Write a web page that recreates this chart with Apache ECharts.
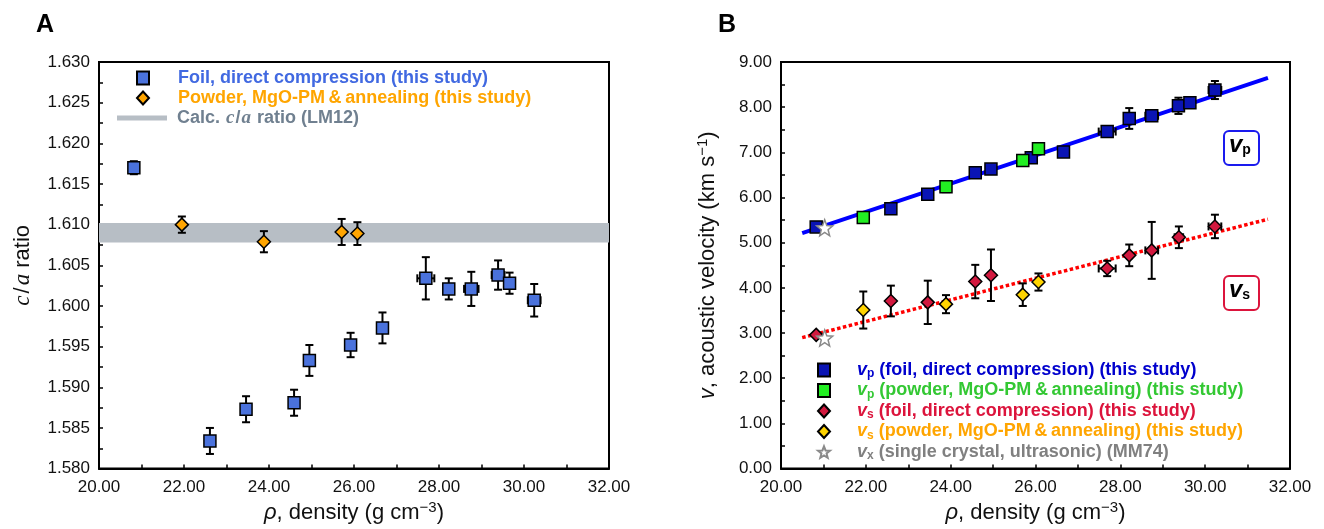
<!DOCTYPE html>
<html>
<head>
<meta charset="utf-8">
<script src="https://cdn.jsdelivr.net/npm/echarts@6/dist/echarts.min.js"></script>
<style>
html,body{margin:0;padding:0;background:#fff;}
#c{width:1324px;height:529px;}
</style>
</head>
<body>
<div id="c"></div>
<script>
// ---------- DATA ----------
// Panel A: c/a ratio
const rhoFoilA = [20.82, 22.61, 23.46, 24.59, 24.95, 25.92, 26.67, 27.69, 28.23, 28.76, 29.39, 29.66, 30.24];
const rhoFoilAErr = [0.05, 0.05, 0.05, 0.05, 0.05, 0.05, 0.10, 0.20, 0.08, 0.17, 0.15, 0.08, 0.15];
const caFoil = [1.6170, 1.5834, 1.5873, 1.5881, 1.5933, 1.5952, 1.5973, 1.6034, 1.6021, 1.6021, 1.6038, 1.6028, 1.6007];
const caFoilErr = [0.0008, 0.0016, 0.0016, 0.0016, 0.0019, 0.0015, 0.0019, 0.0026, 0.0013, 0.0021, 0.0018, 0.0013, 0.0020];
const rhoPowderA = [21.95, 23.88, 25.71, 26.08];
const caPowder = [1.6100, 1.6079, 1.6091, 1.6089];
const caPowderErr = [0.0010, 0.0013, 0.0016, 0.0014];
const caCalcBand = [1.6078, 1.6102];

// Panel B: velocities
const rhoVpFoil = [20.83, 22.59, 23.46, 24.58, 24.95, 25.90, 26.66, 27.69, 28.21, 28.74, 29.37, 29.64, 30.23];
const rhoVpFoilErr = [0.03, 0.03, 0.03, 0.05, 0.05, 0.05, 0.10, 0.20, 0.05, 0.15, 0.12, 0.10, 0.15];
const vpFoil = [5.35, 5.75, 6.07, 6.55, 6.63, 6.88, 7.01, 7.46, 7.75, 7.81, 8.03, 8.10, 8.38];
const vpFoilErr = [0.04, 0.05, 0.08, 0.08, 0.05, 0.05, 0.05, 0.10, 0.23, 0.05, 0.18, 0.08, 0.20];
const rhoPowderB = [21.94, 23.89, 25.70, 26.07];
const vpPowder = [5.56, 6.24, 6.82, 7.08];
const vpPowderErr = [0.04, 0.12, 0.12, 0.10];
const rhoVsFoil = [20.83, 22.59, 23.46, 24.58, 24.95, 27.69, 28.21, 28.74, 29.38, 30.23];
const rhoVsFoilErr = [0.03, 0.03, 0.03, 0.05, 0.05, 0.20, 0.05, 0.15, 0.10, 0.15];
const vsFoil = [2.96, 3.71, 3.68, 4.14, 4.28, 4.43, 4.72, 4.83, 5.12, 5.36];
const vsFoilErr = [0.04, 0.34, 0.48, 0.37, 0.57, 0.17, 0.24, 0.63, 0.24, 0.26];
const vsPowder = [3.51, 3.64, 3.85, 4.13];
const vsPowderErr = [0.41, 0.20, 0.25, 0.19];
const rhoMM74 = [21.03, 21.03];
const vMM74 = [5.33, 2.89];
const vpFitRho = [20.5, 31.48];
const vpFitV = [5.21, 8.65];
const vsFitRho = [20.5, 31.48];
const vsFitV = [2.90, 5.52];

// Tick settings
const xTicks = {min: 20, max: 32, interval: 2};
const caTicks = {min: 1.58, max: 1.63, interval: 0.005};
const vTicks = {min: 0, max: 9, interval: 1};

// ---------- HELPERS ----------
const FONT = 'Liberation Sans, Arial, sans-serif';
const zip = (xs, ys) => xs.map((x, i) => [x, ys[i]]);
const zipErr = (xs, ys, ye, xe) => xs.map((x, i) => [x, ys[i], ye[i], xe ? xe[i] : 0]);

function errRender(params, api) {
  const x = api.value(0), y = api.value(1), ye = api.value(2), xe = api.value(3);
  const top = api.coord([x, y + ye]);
  const bot = api.coord([x, y - ye]);
  const l = api.coord([x - xe, y]);
  const r = api.coord([x + xe, y]);
  const c = api.coord([x, y]);
  const cap = 4;
  const st = {stroke: '#000', lineWidth: 2};
  const seg = (x1, y1, x2, y2) => ({type: 'line', shape: {x1, y1, x2, y2}, style: st});
  return {
    type: 'group',
    children: [
      seg(c[0], top[1], c[0], bot[1]),
      seg(c[0] - cap, top[1], c[0] + cap, top[1]),
      seg(c[0] - cap, bot[1], c[0] + cap, bot[1]),
      seg(l[0], c[1], r[0], c[1]),
      seg(l[0], c[1] - cap, l[0], c[1] + cap),
      seg(r[0], c[1] - cap, r[0], c[1] + cap)
    ]
  };
}

function errSeries(xi, yi, data) {
  return {
    type: 'custom', xAxisIndex: xi, yAxisIndex: yi, z: 3,
    renderItem: errRender, data: data,
    encode: {x: 0, y: 1}, silent: true
  };
}

const axisCommon = {
  axisLine: {show: true, onZero: false, lineStyle: {color: '#000', width: 2}},
  axisTick: {show: true, inside: true, length: 4, lineStyle: {color: '#000', width: 1.5}},
  minorTick: {show: true, splitNumber: 2, length: 4, lineStyle: {color: '#000', width: 1.5}},
  splitLine: {show: false},
  axisLabel: {color: '#111', fontSize: 17, fontFamily: FONT},
  nameLocation: 'middle'
};

const starPath = 'path://M12,1 L14.9,8.6 L23,9 L16.7,14.1 L18.8,22 L12,17.6 L5.2,22 L7.3,14.1 L1,9 L9.1,8.6 Z';

const nameRich = {
  n: {fontSize: 22, fontFamily: FONT, color: '#111'},
  i: {fontSize: 22, fontFamily: FONT, fontStyle: 'italic', color: '#111'},
  si: {fontSize: 23, fontFamily: 'Liberation Serif, Times New Roman, serif', fontStyle: 'italic', color: '#111'},
  sl: {fontSize: 22, fontFamily: FONT, color: '#111', padding: [0, 2, 0, 2]},
  sup: {fontSize: 15, fontFamily: FONT, color: '#111', verticalAlign: 'top', lineHeight: 25}
};

const xName = '{i|ρ}{n|, density (g cm}{sup|−3}{n|)}';

// ---------- LEGEND LABELS ----------
const legA = ['Foil, direct compression (this study)', 'Powder, MgO-PM\u2009&\u2009annealing (this study)', 'Calc. c/a ratio (LM12)'];
const legB = ['vp foil', 'vp powder', 'vs foil', 'vs powder', 'vx MM74'];
const legBText = {
  'vp foil': ['b', 'p', ' (foil, direct compression) (this study)'],
  'vp powder': ['g', 'p', ' (powder, MgO-PM\u2009&\u2009annealing) (this study)'],
  'vs foil': ['r', 's', ' (foil, direct compression) (this study)'],
  'vs powder': ['o', 's', ' (powder, MgO-PM\u2009&\u2009annealing) (this study)'],
  'vx MM74': ['k', 'x', ' (single crystal, ultrasonic) (MM74)']
};
const legColors = {b: '#0000cd', g: '#33c833', r: '#dc143c', o: '#ffa500', k: '#808080'};
const richB = {};
Object.keys(legColors).forEach(k => {
  const c = legColors[k];
  richB[k + 'v'] = {fontSize: 18, fontWeight: 'bold', fontStyle: 'italic', color: c, fontFamily: FONT};
  richB[k + 's'] = {fontSize: 12, fontWeight: 'bold', color: c, fontFamily: FONT, verticalAlign: 'bottom'};
  richB[k + 't'] = {fontSize: 18, fontWeight: 'bold', color: c, fontFamily: FONT};
});

const chart = echarts.init(document.getElementById('c'), null, {renderer: 'canvas'});

const option = {
  backgroundColor: '#fff',
  animation: false,
  textStyle: {fontFamily: FONT},
  title: [
    {text: 'A', left: 31, top: 8, textStyle: {fontSize: 25, fontWeight: 'bold', color: '#000', fontFamily: FONT}},
    {text: 'B', left: 713, top: 8, textStyle: {fontSize: 25, fontWeight: 'bold', color: '#000', fontFamily: FONT}}
  ],
  grid: [
    {left: 99, top: 62, width: 510, height: 408, show: true, borderColor: '#000', borderWidth: 2, backgroundColor: 'transparent'},
    {left: 781, top: 62, width: 509, height: 408, show: true, borderColor: '#000', borderWidth: 2, backgroundColor: 'transparent'}
  ],
  xAxis: [
    Object.assign({}, axisCommon, {
      type: 'value', gridIndex: 0, min: xTicks.min, max: xTicks.max, interval: xTicks.interval,
      axisLabel: Object.assign({}, axisCommon.axisLabel, {margin: 10, formatter: v => v.toFixed(2)}),
      name: xName, nameGap: 31, nameTextStyle: {rich: nameRich}
    }),
    Object.assign({}, axisCommon, {
      type: 'value', gridIndex: 1, min: xTicks.min, max: xTicks.max, interval: xTicks.interval,
      axisLabel: Object.assign({}, axisCommon.axisLabel, {margin: 10, formatter: v => v.toFixed(2)}),
      name: xName, nameGap: 31, nameTextStyle: {rich: nameRich}
    })
  ],
  yAxis: [
    Object.assign({}, axisCommon, {
      type: 'value', gridIndex: 0, min: caTicks.min, max: caTicks.max, interval: caTicks.interval,
      axisLabel: Object.assign({}, axisCommon.axisLabel, {margin: 9, formatter: v => v.toFixed(3)}),
      name: '{si|c}{sl|/}{si|a}{n| ratio}', nameGap: 65, nameTextStyle: {rich: nameRich}
    }),
    Object.assign({}, axisCommon, {
      type: 'value', gridIndex: 1, min: vTicks.min, max: vTicks.max, interval: vTicks.interval,
      axisLabel: Object.assign({}, axisCommon.axisLabel, {margin: 9, formatter: v => v.toFixed(2)}),
      name: '{i|v}{n|, acoustic velocity (km s}{sup|−1}{n|)}', nameGap: 61, nameTextStyle: {rich: nameRich}
    })
  ],
  legend: [
    {
      orient: 'vertical', left: 136, top: 68, padding: 0, itemWidth: 12, itemHeight: 13, itemGap: 0,
      selectedMode: false,
      data: [
        {name: legA[0], textStyle: {color: '#4169e1'}},
        {name: legA[1], textStyle: {color: '#ffa500'}}
      ],
      textStyle: {fontSize: 18, fontWeight: 'bold', fontFamily: FONT, lineHeight: 20, padding: [0, 0, 0, 24]}
    },
    {
      orient: 'vertical', left: 117, top: 108, padding: 0, itemWidth: 50, itemHeight: 5, itemGap: 0,
      selectedMode: false,
      data: [{name: legA[2], icon: 'rect', itemStyle: {color: '#b7bec5'}}],
      formatter: () => '{g|Calc. }{gi|c}{g|/}{gi|a}{g| ratio (LM12)}',
      textStyle: {
        fontSize: 18, fontWeight: 'bold', fontFamily: FONT, lineHeight: 20, padding: [0, 0, 0, 5],
        rich: {
          g: {fontSize: 18, fontWeight: 'bold', color: '#708090', fontFamily: FONT},
          gi: {fontSize: 19, fontStyle: 'italic', color: '#708090', fontFamily: 'Liberation Serif, serif', padding: [0, 1, 0, 1]}
        }
      }
    },
    {
      orient: 'vertical', left: 817, top: 360, padding: 0, itemWidth: 12, itemHeight: 13, itemGap: 0.5,
      selectedMode: false,
      data: legB,
      formatter: name => {
        const t = legBText[name];
        return '{' + t[0] + 'v|v}{' + t[0] + 's|' + t[1] + '}{' + t[0] + 't|' + t[2] + '}';
      },
      textStyle: {fontSize: 18, fontWeight: 'bold', lineHeight: 20, padding: [0, 0, 0, 22], rich: richB}
    }
  ],
  graphic: [
    {type: 'rect', left: 1223, top: 130, shape: {width: 35, height: 34, r: 5}, style: {fill: '#fff', stroke: '#1a1aee', lineWidth: 2}, z: 10},
    {type: 'text', x: 1229, y: 133, z: 11,
      style: {text: '{v|v}{s|p}', rich: {
        v: {fontSize: 24, fontWeight: 'bold', fontStyle: 'italic', color: '#1010cc', fontFamily: FONT},
        s: {fontSize: 14, fontWeight: 'bold', color: '#1010cc', fontFamily: FONT, verticalAlign: 'bottom'}
      }}},
    {type: 'rect', left: 1223, top: 275, shape: {width: 35, height: 34, r: 5}, style: {fill: '#fff', stroke: '#dc143c', lineWidth: 2}, z: 10},
    {type: 'text', x: 1229, y: 278, z: 11,
      style: {text: '{v|v}{s|s}', rich: {
        v: {fontSize: 24, fontWeight: 'bold', fontStyle: 'italic', color: '#dc143c', fontFamily: FONT},
        s: {fontSize: 14, fontWeight: 'bold', color: '#dc143c', fontFamily: FONT, verticalAlign: 'bottom'}
      }}}
  ],
  series: [
    // ---- Panel A ----
    {
      name: legA[2], type: 'line', xAxisIndex: 0, yAxisIndex: 0, data: [], symbol: 'none',
      lineStyle: {width: 5, color: '#b7bec5'}, itemStyle: {color: '#b7bec5'}, z: 1,
      markArea: {silent: true, itemStyle: {color: '#b7bec5', opacity: 1},
        data: [[{yAxis: caCalcBand[0]}, {yAxis: caCalcBand[1]}]]}
    },
    errSeries(0, 0, zipErr(rhoFoilA, caFoil, caFoilErr, rhoFoilAErr)),
    errSeries(0, 0, zipErr(rhoPowderA, caPowder, caPowderErr)),
    {
      name: legA[0], type: 'scatter', xAxisIndex: 0, yAxisIndex: 0, z: 5,
      symbol: 'rect', symbolSize: 12, data: zip(rhoFoilA, caFoil),
      itemStyle: {color: '#4a72dc', borderColor: '#000', borderWidth: 1.5, opacity: 1}
    },
    {
      name: legA[1], type: 'scatter', xAxisIndex: 0, yAxisIndex: 0, z: 5,
      symbol: 'diamond', symbolSize: 13, data: zip(rhoPowderA, caPowder),
      itemStyle: {color: '#ffa500', borderColor: '#000', borderWidth: 1.5, opacity: 1}
    },
    // ---- Panel B ----
    {
      type: 'line', xAxisIndex: 1, yAxisIndex: 1, data: zip(vpFitRho, vpFitV), symbol: 'none', z: 2,
      lineStyle: {color: '#0000ff', width: 4}, silent: true
    },
    {
      type: 'line', xAxisIndex: 1, yAxisIndex: 1, data: zip(vsFitRho, vsFitV), symbol: 'none', z: 2,
      lineStyle: {color: '#ff0000', width: 3.5, type: [3.5, 2.5]}, silent: true
    },
    errSeries(1, 1, zipErr(rhoVpFoil, vpFoil, vpFoilErr, rhoVpFoilErr)),
    errSeries(1, 1, zipErr(rhoPowderB, vpPowder, vpPowderErr)),
    errSeries(1, 1, zipErr(rhoVsFoil, vsFoil, vsFoilErr, rhoVsFoilErr)),
    errSeries(1, 1, zipErr(rhoPowderB, vsPowder, vsPowderErr)),
    {
      name: legB[0], type: 'scatter', xAxisIndex: 1, yAxisIndex: 1, z: 5,
      symbol: 'rect', symbolSize: 12, data: zip(rhoVpFoil, vpFoil),
      itemStyle: {color: '#0a14b4', borderColor: '#000', borderWidth: 1.5, opacity: 1}
    },
    {
      name: legB[1], type: 'scatter', xAxisIndex: 1, yAxisIndex: 1, z: 5,
      symbol: 'rect', symbolSize: 12, data: zip(rhoPowderB, vpPowder),
      itemStyle: {color: '#22ee22', borderColor: '#000', borderWidth: 1.5, opacity: 1}
    },
    {
      name: legB[2], type: 'scatter', xAxisIndex: 1, yAxisIndex: 1, z: 5,
      symbol: 'diamond', symbolSize: 13, data: zip(rhoVsFoil, vsFoil),
      itemStyle: {color: '#d2193f', borderColor: '#000', borderWidth: 1.5, opacity: 1}
    },
    {
      name: legB[3], type: 'scatter', xAxisIndex: 1, yAxisIndex: 1, z: 5,
      symbol: 'diamond', symbolSize: 13, data: zip(rhoPowderB, vsPowder),
      itemStyle: {color: '#ffd400', borderColor: '#000', borderWidth: 1.5, opacity: 1}
    },
    {
      name: legB[4], type: 'scatter', xAxisIndex: 1, yAxisIndex: 1, z: 6,
      symbol: starPath, symbolSize: 16, data: zip(rhoMM74, vMM74),
      itemStyle: {color: '#fff', borderColor: '#8a8a8a', borderWidth: 1.5, opacity: 1}
    }
  ]
};
chart.setOption(option);
</script>
</body>
</html>
